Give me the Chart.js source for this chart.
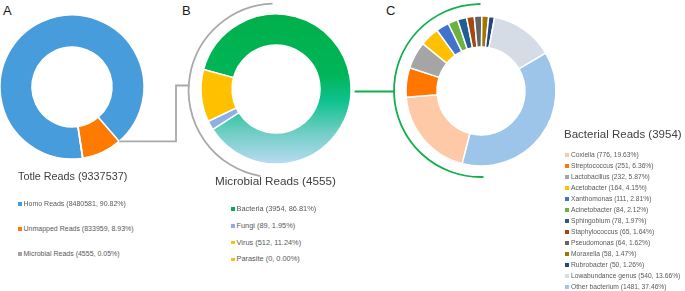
<!DOCTYPE html>
<html><head><meta charset="utf-8">
<script src="https://cdn.jsdelivr.net/npm/chart.js@4/dist/chart.umd.min.js"></script>
<style>
html,body{margin:0;padding:0;background:#fff;width:685px;height:291px;overflow:hidden;font-family:"Liberation Sans",Arial,sans-serif;}
canvas{position:absolute;}
.t{position:absolute;white-space:nowrap;color:#404040;}
.lab{position:absolute;font-size:13px;color:#1a1a1a;}
.li{position:absolute;white-space:nowrap;color:#595959;}
.li span{display:inline-block;vertical-align:middle;margin-right:2px;}
</style></head><body>
<div class="lab" style="left:3px;top:3px">A</div>
<div class="lab" style="left:182px;top:3px">B</div>
<div class="lab" style="left:386px;top:3px">C</div>
<script>
// ---------- DATA ----------
const titleA = 'Totle Reads (9337537)';
const namesA = ['Homo Reads', 'Unmapped Reads', 'Microbial Reads'];
const valuesA = [8480581, 833959, 4555];
const pctA = ['90.82%', '8.93%', '0.05%'];

const titleB = 'Microbial Reads (4555)';
const namesB = ['Bacteria', 'Fungi', 'Virus', 'Parasite'];
const valuesB = [3954, 89, 512, 0];
const pctB = ['86.81%', '1.95%', '11.24%', '0.00%'];

const titleC = 'Bacterial Reads (3954)';
const namesC = ['Coxiella', 'Streptococcus', 'Lactobacillus', 'Acetobacter', 'Xanthomonas', 'Acinetobacter',
  'Sphingobium', 'Staphylococcus', 'Pseudomonas', 'Moraxella', 'Rubrobacter', 'Lowabundance genus', 'Other bacterium'];
const valuesC = [776, 251, 232, 164, 111, 84, 78, 65, 64, 58, 50, 540, 1481];
const pctC = ['19.63%', '6.36%', '5.87%', '4.15%', '2.81%', '2.12%', '1.97%', '1.64%', '1.62%', '1.47%', '1.26%', '13.66%', '37.46%'];

// ---------- STYLE ----------
const colorsA = ['#479cdb', '#ff7a00', '#a5a5a5'];
const colorsB = ['GRAD', '#8eaee6', '#ffc000', '#ffc000'];
const legendColorsB = ['#00b050', '#8eaee6', '#ffc000', '#ffc000'];
const colorsC = ['#fdc9a6', '#ff7700', '#a5a5a5', '#ffc000', '#4173cc', '#6bb23f', '#1f5f93',
  '#a6470f', '#636363', '#a07600', '#234682', '#d6dce5', '#9cc5e9'];

function makeDonut(id, cx, cy, R, cut, names, values, colors, rotation) {
  const S = 190;
  const c = document.createElement('canvas');
  c.width = S; c.height = S;
  c.style.width = S + 'px'; c.style.height = S + 'px';
  c.style.left = (cx - S / 2) + 'px'; c.style.top = (cy - S / 2) + 'px';
  document.body.appendChild(c);
  return new Chart(c, {
    type: 'doughnut',
    data: { labels: names, datasets: [{ data: values,
      backgroundColor: (ctx) => {
        const col = colors[ctx.dataIndex];
        if (col !== 'GRAD') return col;
        const ch = ctx.chart; const g = ch.ctx.createLinearGradient(0, S / 2 - R, 0, S / 2 + R);
        g.addColorStop(0, '#00b04a'); g.addColorStop(0.4, '#00b558'); g.addColorStop(0.58, '#0ec28f');
        g.addColorStop(0.78, '#6ccdc2'); g.addColorStop(1, '#b9dbf2');
        return g;
      },
      borderColor: '#ffffff', borderWidth: 1.5 }] },
    options: { responsive: false, animation: false, devicePixelRatio: 1,
      radius: R, cutout: (cut / R * 100).toFixed(2) + '%', rotation: rotation,
      layout: { padding: 0 },
      plugins: { legend: { display: false }, tooltip: { enabled: false } } }
  });
}

const chA = makeDonut('a', 72, 87, 72, 40, namesA, valuesA, colorsA, 171.5);
const chB = makeDonut('b', 275.6, 88.5, 75, 44, namesB, valuesB, colorsB, 285);
const chC = makeDonut('c', 480.5, 90.5, 75, 44, namesC, valuesC, colorsC, 194.5);

// ---------- TEXT ----------
function addText(x, y, txt, size) {
  const d = document.createElement('div'); d.className = 't';
  d.style.left = x + 'px'; d.style.top = y + 'px'; d.style.fontSize = size + 'px';
  d.textContent = txt; document.body.appendChild(d);
}
function addLegend(x, y, step, names, values, pct, colors, size, box) {
  names.forEach((n, i) => {
    const d = document.createElement('div'); d.className = 'li';
    d.style.left = x + 'px'; d.style.top = (y + i * step) + 'px'; d.style.fontSize = size + 'px';
    d.style.lineHeight = (size + 2) + 'px';
    const s = document.createElement('span');
    s.style.width = box + 'px'; s.style.height = box + 'px'; s.style.background = colors[i];
    d.appendChild(s);
    d.appendChild(document.createTextNode(n + ' (' + values[i] + ', ' + pct[i] + ')'));
    document.body.appendChild(d);
  });
}
addText(18, 170, titleA, 10.8);
addText(215, 174, titleB, 11.7);
addText(564, 128, titleC, 11.5);
addLegend(18, 199, 24.8, namesA, valuesA, pctA, colorsA, 7, 3.5);
addLegend(231, 204, 16.8, namesB, valuesB, pctB, legendColorsB, 7.4, 3.5);
addLegend(565, 151, 11, namesC, valuesC, pctC, colorsC, 6.7, 4);

// ---------- CONNECTORS ----------
const ov = document.createElement('canvas');
ov.width = 685; ov.height = 291; ov.style.left = '0px'; ov.style.top = '0px';
ov.style.width = '685px'; ov.style.height = '291px';
document.body.appendChild(ov);
const g = ov.getContext('2d');
function center(ch) {
  const el = ch.getDatasetMeta(0).data[0];
  const r = ch.canvas.getBoundingClientRect();
  return { x: r.left + el.x, y: r.top + el.y, R: el.outerRadius, el: ch.getDatasetMeta(0).data };
}
const cA = center(chA), cB = center(chB), cC = center(chC);
const d2r = Math.PI / 180;
// gray connector A -> B
const sa = cA.el[1].startAngle;
const p0 = { x: cA.x + cA.R * Math.cos(sa), y: cA.y + cA.R * Math.sin(sa) };
g.strokeStyle = '#a9a9a9'; g.lineWidth = 1.8;
g.beginPath();
g.moveTo(p0.x, p0.y); g.lineTo(176, p0.y); g.lineTo(176, cB.y - 3); g.lineTo(cB.x - 86, cB.y - 3);
g.stroke();
// gray arc around B
g.beginPath();
g.arc(cB.x, cB.y + 2, 87, (190 - 90) * d2r, (358 - 90) * d2r, false);
g.stroke();
// green connector B -> C
g.strokeStyle = '#11b04c'; g.lineWidth = 1.8;
g.beginPath();
g.moveTo(cB.x + cB.R + 4, cC.y + 1); g.lineTo(cC.x - 86.5, cC.y + 1);
g.stroke();
g.beginPath();
g.arc(cC.x, cC.y, 86.5, (178 - 90) * d2r, (360 - 90) * d2r, false);
g.stroke();
</script>
</body></html>
